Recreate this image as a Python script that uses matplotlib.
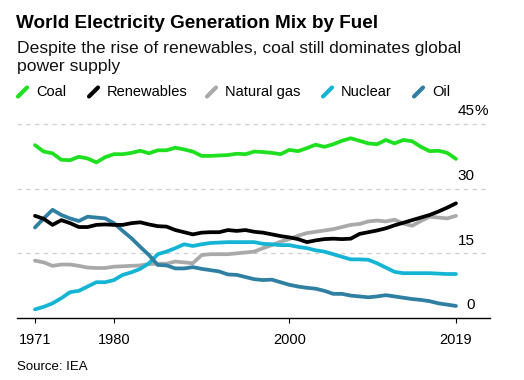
import matplotlib
matplotlib.use("Agg")
import matplotlib.pyplot as plt
from matplotlib.lines import Line2D

plt.rcParams['font.family'] = ['Liberation Sans', 'DejaVu Sans']

years = list(range(1971, 2020))

coal = [40.1, 38.6, 38.2, 36.7, 36.6, 37.4, 37.0, 36.1, 37.3, 38.0,
        38.0, 38.3, 38.8, 38.2, 38.9, 38.9, 39.5, 39.1, 38.6, 37.6,
        37.6, 37.7, 37.8, 38.1, 38.0, 38.6, 38.5, 38.3, 38.0, 39.0,
        38.7, 39.4, 40.2, 39.7, 40.3, 41.1, 41.7, 41.1, 40.5, 40.3,
        41.3, 40.5, 41.3, 41.0, 39.7, 38.7, 38.8, 38.3, 36.9]
renewables = [23.7, 23.0, 21.6, 22.7, 22.0, 21.1, 21.1, 21.6, 21.7, 21.6,
              21.6, 22.0, 22.2, 21.7, 21.3, 21.2, 20.4, 19.9, 19.4, 19.8,
              19.9, 19.9, 20.4, 20.2, 20.4, 20.0, 19.8, 19.4, 19.0, 18.7,
              18.3, 17.6, 18.0, 18.3, 18.4, 18.3, 18.4, 19.5, 19.9, 20.3,
              20.8, 21.5, 22.1, 22.7, 23.3, 23.9, 24.7, 25.6, 26.6]
natural_gas = [13.3, 12.9, 12.1, 12.4, 12.4, 12.1, 11.7, 11.6, 11.6, 11.9,
               12.0, 12.1, 12.2, 12.5, 12.6, 12.6, 13.1, 12.9, 12.7, 14.6,
               14.8, 14.8, 14.8, 15.0, 15.2, 15.4, 16.2, 16.9, 17.7, 18.3,
               19.1, 19.7, 20.0, 20.3, 20.6, 21.1, 21.6, 21.8, 22.4, 22.6,
               22.4, 22.8, 21.9, 21.4, 22.5, 23.5, 23.3, 23.1, 23.7]
nuclear = [2.0, 2.6, 3.4, 4.6, 6.0, 6.3, 7.3, 8.3, 8.3, 8.8,
           10.0, 10.6, 11.4, 12.7, 14.8, 15.4, 16.2, 17.1, 16.7, 17.1,
           17.4, 17.5, 17.6, 17.6, 17.6, 17.6, 17.2, 17.1, 16.9, 16.9,
           16.5, 16.2, 15.7, 15.4, 14.8, 14.2, 13.6, 13.6, 13.5, 12.7,
           11.7, 10.7, 10.4, 10.4, 10.4, 10.4, 10.3, 10.2, 10.2]
oil = [21.0, 23.1, 25.1, 23.9, 23.1, 22.5, 23.5, 23.3, 23.1, 22.0,
       20.2, 18.5, 16.5, 14.6, 12.3, 12.2, 11.5, 11.5, 11.8, 11.4,
       11.1, 10.8, 10.1, 10.0, 9.5, 9.0, 8.8, 8.9, 8.3, 7.7,
       7.3, 7.0, 6.8, 6.3, 5.6, 5.6, 5.2, 5.0, 4.8, 5.0,
       5.3, 5.0, 4.7, 4.4, 4.2, 3.9, 3.4, 3.1, 2.8]

names = ["Coal", "Renewables", "Natural gas", "Nuclear", "Oil"]
colors = ["#1fe01f", "#000000", "#a9a9a9", "#14b4d4", "#2f7fa2"]
series = [coal, renewables, natural_gas, nuclear, oil]

grid_values = [15, 30, 45]
tick_years = [1971, 1980, 2000, 2019]

fig = plt.figure(figsize=(5.24, 3.80), dpi=100)
ax = fig.add_axes([17 / 524, 62 / 380, 473 / 524, 194 / 380])

for g in grid_values:
    ax.plot([1968.95, 2022.6], [g, g], color="#cfcfcf", lw=0.9,
            dashes=(3.5, 3.5), zorder=1, clip_on=False)

# draw in an order so black sits over gray etc.
order = [2, 3, 4, 1, 0]
for i in order:
    ax.plot(years, series[i], color=colors[i], lw=2.7, zorder=3,
            solid_capstyle="round", solid_joinstyle="round")

ax.set_xlim(1968.95, 2022.88)
ax.set_ylim(0, 45)
for s in ["top", "right", "left"]:
    ax.spines[s].set_visible(False)
ax.spines["bottom"].set_linewidth(1.0)
ax.set_yticks([])
ax.set_xticks(tick_years)
ax.set_xticklabels([str(y) for y in tick_years], fontsize=10.5)
ax.tick_params(axis="x", length=3.5, width=0.8, pad=7)

# y labels sit right above the gridlines
for v in [0] + grid_values:
    ax.text(2021.1, v + 1.3, str(v), ha="right", va="bottom", fontsize=11)
ax.text(2021.1, 45 + 1.3, "%", ha="left", va="bottom", fontsize=11)

fig.text(16 / 524, 1 - 23 / 380, "World Electricity Generation Mix by Fuel",
         fontsize=13.6, fontweight="bold", va="center", ha="left")
fig.text(17 / 524, 1 - 48 / 380,
         "Despite the rise of renewables, coal still dominates global",
         fontsize=12.6, va="center", ha="left", color="#111111")
fig.text(17 / 524, 1 - 66 / 380, "power supply",
         fontsize=12.6, va="center", ha="left", color="#111111")

leg_x = [18, 89, 207, 323, 414]
leg_y = 1 - 92 / 380
for x, name, c in zip(leg_x, names, colors):
    fig.add_artist(Line2D([x / 524, (x + 9) / 524],
                          [leg_y - 4.5 / 380, leg_y + 4.5 / 380],
                          color=c, lw=3, solid_capstyle="round",
                          transform=fig.transFigure))
    fig.text((x + 18) / 524, leg_y, name, fontsize=10.5, va="center", ha="left")

fig.text(17 / 524, 1 - 367 / 380, "Source: IEA", fontsize=9.5,
         va="center", ha="left")

fig.savefig("out.png", dpi=100)
